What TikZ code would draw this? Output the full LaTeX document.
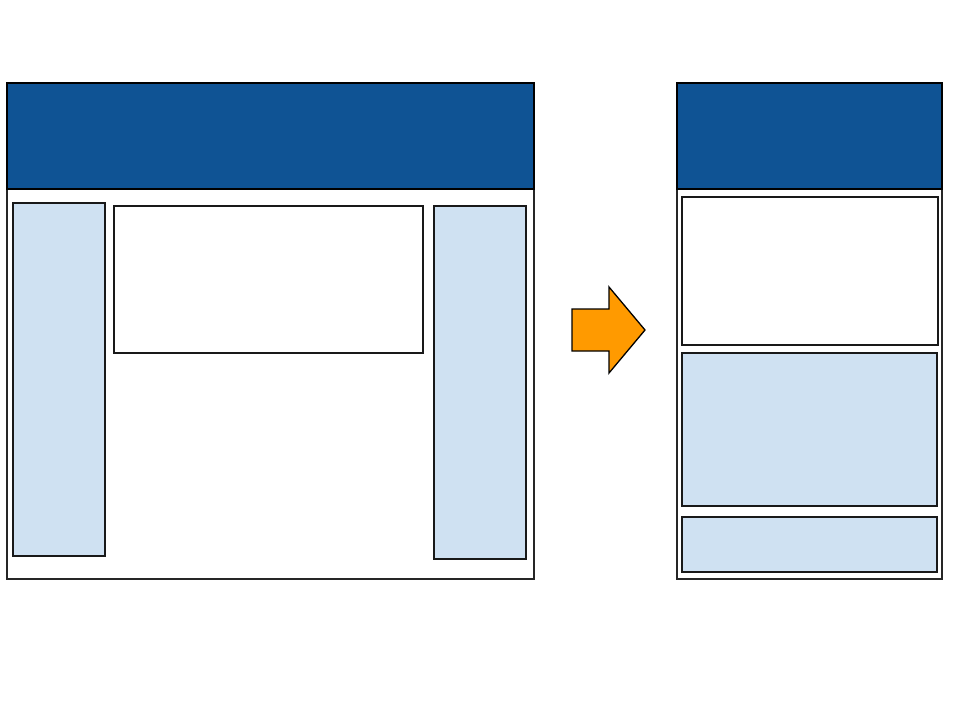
\documentclass[tikz,border=0pt]{standalone}
\begin{document}
\begin{tikzpicture}[x=1pt,y=-1pt,
  frame/.style={draw=black!85,line width=1.6pt,fill=white},
  header/.style={draw=black,line width=1.6pt,fill=headblue},
  panel/.style={draw=black!90,line width=1.5pt,fill=paleblue},
  content/.style={draw=black!90,line width=1.5pt,fill=white},
  flowarrow/.style={draw=black,line width=1.3pt,fill=arroworange,line join=miter}]
\definecolor{headblue}{HTML}{0F5394}
\definecolor{paleblue}{HTML}{CFE1F2}
\definecolor{arroworange}{HTML}{FF9A00}
\useasboundingbox (0,0) rectangle (960,720);

% wide layout
\path[frame] (7,83) rectangle (534,579);
\path[header] (7,83) rectangle (534,189);
\path[panel] (13,203) rectangle (105,556);
\path[content] (114,206) rectangle (423,353);
\path[panel] (434,206) rectangle (526,559);

% transition arrow
\path[flowarrow] (572,309) -- (609,309) -- (609,287) -- (645,330) -- (609,373) -- (609,351) -- (572,351) -- cycle;

% narrow layout
\path[frame] (677,83) rectangle (942,579);
\path[header] (677,83) rectangle (942,189);
\path[content] (682,197) rectangle (938,345);
\path[panel] (682,353) rectangle (937,506);
\path[panel] (682,517) rectangle (937,572);
\end{tikzpicture}
\end{document}
